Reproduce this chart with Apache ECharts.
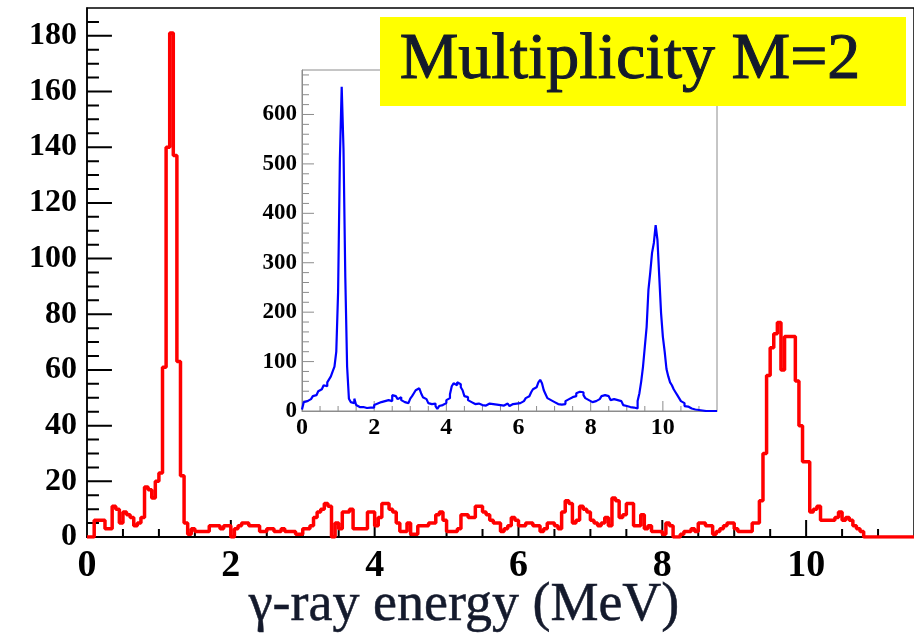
<!DOCTYPE html>
<html><head><meta charset="utf-8">
<script src="https://cdn.jsdelivr.net/npm/echarts@6/dist/echarts.min.js"></script>
<style>html,body{margin:0;padding:0;background:#fff}#c{width:914px;height:635px}</style>
</head><body><div id="c"></div>
<script>
// ---- data ----
const binWidth = 0.05;          // MeV per bin
const xMax = 11.5;              // energy axis end (MeV)
const mainYMax = 190;
const insetYMax = 690;
const xTickValues = [0, 2, 4, 6, 8, 10];
const mainYTickValues = [0, 20, 40, 60, 80, 100, 120, 140, 160, 180];
const insetYTickValues = [0, 100, 200, 300, 400, 500, 600];

// Multiplicity M=2 spectrum (red), counts per 0.05 MeV bin starting at 0 MeV
const mainCounts = [
  0,0,6,6,6,3,3,11,10,5,
  9,8,7,4,5,7,18,17,14,20,
  23,61,140,181,137,63,22,5,1,3,
  2,2,2,2,4,4,4,3,4,4,
  0,3,4,5,5,4,4,4,2,2,
  3,3,2,2,3,2,2,2,1,1,
  3,3,4,7,9,10,12,11,0,5,
  3,9,9,10,3,3,3,3,9,9,
  4,7,12,12,10,9,5,2,2,5,
  1,1,4,4,4,5,5,8,9,6,
  2,2,2,3,8,8,7,7,11,11,
  9,8,6,5,5,2,3,4,7,6,
  4,4,5,5,4,4,2,3,5,5,
  4,3,9,13,12,5,6,11,10,9,
  6,5,4,5,7,4,14,13,7,8,
  12,12,4,4,8,3,4,2,2,2,
  1,5,4,0,0,1,2,2,3,2,
  5,5,4,4,1,2,3,4,5,5,
  3,2,2,2,2,5,5,13,30,58,
  68,73,77,60,72,72,72,56,40,27,
  27,9,10,11,6,6,6,6,7,9,
  6,7,6,4,3,2,0,0,0,0,
  0,0,0,0,0,0,0,0,0,0
];

// Inset spectrum (blue), counts per 0.05 MeV bin starting at 0 MeV
const insetCounts = [
  3,18,20,22,24,26,30,32,36,40,
  44,48,52,50,58,64,70,80,90,120,
  240,510,656,530,270,90,25,18,16,25,
  12,8,6,8,7,6,8,7,9,7,
  12,15,14,18,22,20,16,22,18,20,
  32,30,26,24,28,22,18,14,16,20,
  25,30,36,42,46,44,36,28,24,20,
  16,14,12,15,10,4,10,12,14,16,
  22,26,34,50,56,52,58,54,48,42,
  30,28,22,18,16,14,12,15,13,12,
  14,11,13,15,12,14,10,13,16,12,
  14,11,13,15,12,10,14,12,15,16,
  16,18,20,22,26,30,32,38,44,48,
  52,58,63,56,42,34,26,22,20,18,
  15,14,16,13,15,14,20,24,22,28,
  32,30,36,39,37,38,32,26,22,20,
  18,22,20,18,24,28,30,32,28,30,
  26,22,24,20,22,18,20,16,12,10,
  9,8,10,7,6,5,20,36,60,90,
  130,170,245,280,320,340,376,346,272,198,
  150,120,85,70,58,52,44,38,32,26,
  20,16,10,9,7,5,3,3,2,2,
  1,1,0,0,0,0,0,0,0,0
];

const titleText = 'Multiplicity M=2';
const xTitleText = 'γ-ray energy (MeV)';

// ---- layout ----
const mainGrid = {left: 87, top: 8, right: -2, bottom: 98};
const mainW = 914 - mainGrid.left - mainGrid.right, mainH = 635 - mainGrid.top - mainGrid.bottom;
const insetGrid = {left: 302, top: 70, width: 415, height: 341};

// ---- helpers ----
function toSteps(counts) {
  const pts = counts.map((v, i) => [Math.round(i * binWidth * 1000) / 1000, v]);
  pts.push([xMax, counts[counts.length - 1]]);
  return pts;
}
const serif = '"Liberation Serif", "Times New Roman", serif';
const labelFmt = (list) => (v) => (list.indexOf(Math.round(v * 1000) / 1000) >= 0 ? String(v) : '');

// inward tick marks as short segments in data space (lengths given in px, converted with the axis extents)
function tickSegments(xEnd, yEnd, wPx, hPx, xInt, xSplit, xMajPx, xMinPx, yInt, ySplit, yMajPx, yMinPx) {
  const pts = [];
  const yPerPx = yEnd / hPx, xPerPx = xEnd / wPx;
  const xs = xInt / xSplit, ys = yInt / ySplit;
  for (let k = 1; k * xs < xEnd - 1e-9; k++) {
    const v = Math.round(k * xs * 1000) / 1000;
    const len = (k % xSplit === 0 ? xMajPx : xMinPx) * yPerPx;
    pts.push([v, 0], [v, len], [v, null]);
  }
  for (let k = 1; k * ys < yEnd - 1e-9; k++) {
    const v = Math.round(k * ys * 1000) / 1000;
    const len = (k % ySplit === 0 ? yMajPx : yMinPx) * xPerPx;
    pts.push([0, v], [len, v], [null, v]);
  }
  return pts;
}
const mainTickData = tickSegments(xMax, mainYMax, mainW, mainH, 2, 4, 17, 8, 20, 4, 25, 12);
const insetTickData = tickSegments(xMax, insetYMax, insetGrid.width, insetGrid.height, 2, 4, 10, 5, 100, 5, 12, 7);

function axisBase(extra) {
  return Object.assign({type: 'value', axisTick: {show: false}, minorTick: {show: false},
    splitLine: {show: false}, minorSplitLine: {show: false}}, extra);
}

const chart = echarts.init(document.getElementById('c'), null, {renderer: 'canvas', width: 914, height: 635});
const option = {
  animation: false,
  backgroundColor: '#ffffff',
  grid: [
    Object.assign({show: true, borderColor: '#000', borderWidth: 1.5}, mainGrid),
    Object.assign({show: true, backgroundColor: '#ffffff', borderColor: '#8c8c8c', borderWidth: 1}, insetGrid)
  ],
  xAxis: [
    axisBase({gridIndex: 0, min: 0, max: xMax, interval: 2, position: 'bottom',
      axisLine: {show: true, onZero: false, lineStyle: {color: '#000', width: 2}},
      axisLabel: {show: true, margin: 10, showMaxLabel: false, formatter: labelFmt(xTickValues),
        color: '#000', fontFamily: serif, fontWeight: 'bold', fontSize: 38}}),
    axisBase({gridIndex: 1, min: 0, max: xMax, interval: 2, position: 'bottom',
      axisLine: {show: true, onZero: false, lineStyle: {color: '#8c8c8c', width: 1}},
      axisLabel: {show: true, margin: 5, showMaxLabel: false, formatter: labelFmt(xTickValues),
        color: '#000', fontFamily: serif, fontWeight: 'bold', fontSize: 24}})
  ],
  yAxis: [
    axisBase({gridIndex: 0, min: 0, max: mainYMax, interval: 20,
      axisLine: {show: true, onZero: false, lineStyle: {color: '#000', width: 1.5}},
      axisLabel: {show: true, margin: 10, showMaxLabel: false, formatter: labelFmt(mainYTickValues),
        color: '#000', fontFamily: serif, fontWeight: 'bold', fontSize: 32}}),
    axisBase({gridIndex: 1, min: 0, max: insetYMax, interval: 100,
      axisLine: {show: true, onZero: false, lineStyle: {color: '#8c8c8c', width: 1}},
      axisLabel: {show: true, margin: 5, showMaxLabel: false, formatter: labelFmt(insetYTickValues),
        color: '#000', fontFamily: serif, fontWeight: 'bold', fontSize: 23}})
  ],
  series: [
    {
      type: 'line', xAxisIndex: 0, yAxisIndex: 0, symbol: 'none', silent: true, connectNulls: false,
      data: mainTickData, lineStyle: {color: '#000000', width: 2}, z: 2
    },
    {
      type: 'line', xAxisIndex: 0, yAxisIndex: 0, step: 'end', symbol: 'none',
      data: toSteps(mainCounts), lineStyle: {color: '#ff0000', width: 3.5}, z: 3
    },
    {
      type: 'line', xAxisIndex: 1, yAxisIndex: 1, symbol: 'none', silent: true, connectNulls: false,
      data: insetTickData, lineStyle: {color: '#8c8c8c', width: 1}, z: 5
    },
    {
      type: 'line', xAxisIndex: 1, yAxisIndex: 1, step: 'end', symbol: 'none',
      data: toSteps(insetCounts), lineStyle: {color: '#0000ff', width: 2.2}, z: 6
    }
  ],
  graphic: [
    {type: 'rect', z: 100, shape: {x: 380, y: 17, width: 526, height: 89}, style: {fill: '#ffff00'}},
    {type: 'text', z: 101, x: 630, y: 61,
     style: {text: titleText, font: '66px "Liberation Serif", serif', fill: '#141a2c', stroke: '#141a2c', lineWidth: 1,
             align: 'center', verticalAlign: 'middle', textAlign: 'center', textVerticalAlign: 'middle'}},
    {type: 'text', z: 101, x: 464, y: 606,
     style: {text: xTitleText, font: '54px "Liberation Serif", serif', fill: '#141a2c', stroke: '#141a2c', lineWidth: 0.5,
             align: 'center', verticalAlign: 'middle', textAlign: 'center', textVerticalAlign: 'middle'}}
  ]
};
chart.setOption(option);
</script>
</body></html>
